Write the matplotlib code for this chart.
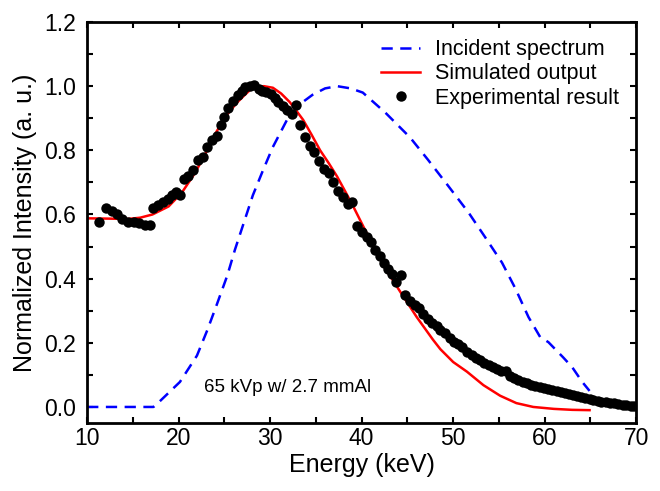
import matplotlib

matplotlib.use("Agg")
import matplotlib.pyplot as plt  # noqa: E402
from matplotlib.ticker import FormatStrFormatter, MultipleLocator  # noqa: E402

plt.rcParams["font.family"] = ["Liberation Sans", "DejaVu Sans"]

# Incident spectrum (blue dashed)
incident_energy = [10.0, 17.25, 17.66, 20.14, 22.0, 23.14, 24.18, 25.32, 26.15,
                   28.11, 29.25, 30.29, 31.84, 33.3, 34.63, 36.0, 37.32, 38.8,
                   40.12, 42.6, 45.29, 47.26, 49.43, 51.7, 53.47, 55.33, 56.78,
                   58.23, 59.5, 60.4, 62.0, 63.0, 64.1, 64.9]
incident_value = [0.0, 0.0, 0.01, 0.078, 0.16, 0.24, 0.32, 0.41, 0.49,
                  0.66, 0.74, 0.81, 0.895, 0.945, 0.973, 0.993, 1.0, 0.993,
                  0.98, 0.917, 0.84, 0.77, 0.69, 0.605, 0.53, 0.45, 0.37,
                  0.28, 0.218, 0.202, 0.155, 0.124, 0.078, 0.05]

# Simulated output (red solid)
sim_energy = [10.0, 12.5, 14.45, 15.8, 17.14, 18.9, 20.35, 21.8, 22.94, 23.97,
              25.11, 26.35, 27.2, 27.8, 28.5, 29.3, 30.3, 31.2, 32.15, 33.0,
              33.6, 34.5, 35.46, 36.4, 37.32, 38.2, 39.08, 40.7, 42.4, 44.26,
              46.02, 47.78, 48.6, 50.0, 51.5, 53.3, 55.13, 56.9, 58.75, 61.0,
              63.0, 64.9]
sim_value = [0.588, 0.587, 0.586, 0.59, 0.60, 0.625, 0.668, 0.73, 0.79, 0.85,
             0.905, 0.948, 0.972, 0.988, 0.997, 1.0, 0.995, 0.977, 0.95, 0.918,
             0.895, 0.85, 0.80, 0.76, 0.718, 0.672, 0.625, 0.533, 0.44, 0.357,
             0.28, 0.21, 0.18, 0.14, 0.11, 0.068, 0.035, 0.012, 0.0, -0.006,
             -0.009, -0.01]

# Experimental result (black dots)
exp_energy = [11.35, 12.07, 12.69, 13.31, 13.83, 14.45, 15.07, 15.69, 16.31, 16.83,
              17.25, 17.76, 18.28, 18.8, 19.32, 19.73, 20.14, 20.56, 21.07, 21.59,
              22.11, 22.63, 23.14, 23.66, 24.18, 24.59, 25.01, 25.42, 25.94, 26.46,
              26.87, 27.28, 27.8, 28.22, 28.73, 29.15, 29.56, 30.08, 30.49, 30.91,
              31.42, 31.84, 32.36, 32.77, 33.29, 33.8, 34.32, 34.84, 35.36, 35.88,
              36.39, 36.91, 37.43, 37.95, 38.46, 38.98, 39.5, 40.02, 40.53, 41.05,
              41.46, 41.98, 42.4, 42.91, 43.33, 43.74, 44.26, 44.78, 45.29, 45.81,
              46.23, 46.74, 47.26, 47.67, 48.19, 48.6, 49.12, 49.64, 50.05, 50.57,
              50.99, 51.5, 52.02, 52.44, 52.95, 53.37, 53.88, 54.3, 54.82, 55.23,
              55.75, 56.16, 56.68, 57.09, 57.61, 58.02, 58.54, 58.96, 59.48, 59.89,
              60.4, 60.82, 61.34, 61.75, 62.2, 62.6, 63.1, 63.5, 64.0, 64.4,
              64.9, 65.3, 65.8, 66.2, 66.7, 67.1, 67.6, 68.0, 68.5, 68.9,
              69.4, 69.8]
exp_value = [0.575, 0.62, 0.61, 0.60, 0.585, 0.578, 0.577, 0.572, 0.568, 0.566,
             0.62, 0.628, 0.64, 0.648, 0.66, 0.67, 0.66, 0.712, 0.72, 0.74,
             0.77, 0.778, 0.81, 0.832, 0.845, 0.878, 0.905, 0.932, 0.955, 0.972,
             0.985, 0.998, 1.0, 1.004, 0.99, 0.986, 0.982, 0.975, 0.962, 0.95,
             0.937, 0.925, 0.912, 0.94, 0.88, 0.84, 0.812, 0.795, 0.768, 0.742,
             0.728, 0.70, 0.672, 0.655, 0.632, 0.64, 0.565, 0.545, 0.53, 0.515,
             0.49, 0.47, 0.448, 0.43, 0.415, 0.39, 0.41, 0.35, 0.33, 0.318,
             0.308, 0.29, 0.273, 0.263, 0.252, 0.24, 0.232, 0.215, 0.202, 0.195,
             0.187, 0.172, 0.163, 0.152, 0.145, 0.138, 0.13, 0.124, 0.118, 0.112,
             0.112, 0.098, 0.09, 0.084, 0.078, 0.074, 0.07, 0.066, 0.062, 0.058,
             0.055, 0.052, 0.049, 0.047, 0.044, 0.041, 0.038, 0.035, 0.032, 0.029,
             0.026, 0.023, 0.02, 0.017, 0.015, 0.013, 0.011, 0.009, 0.007, 0.005,
             0.004, 0.003]

fig = plt.figure(figsize=(6.6, 4.91), dpi=100)
ax = fig.add_axes([0.132, 0.1385, 0.832, 0.8167])

ax.plot(incident_energy, incident_value, color="#0000ff", lw=1.8,
        linestyle=(0, (4.5, 3)), label="Incident spectrum")
ax.plot(sim_energy, sim_value, color="#ff0000", lw=1.8, label="Simulated output")
ax.plot(exp_energy, exp_value, "o", color="black", ms=7.5, mew=0,
        label="Experimental result")

ax.text(22.8, 0.062, "65 kVp w/ 2.7 mmAl", fontsize=13.5, va="center")

ax.set_xlim(10, 70)
ax.set_ylim(-0.05, 1.2)
ax.xaxis.set_major_locator(MultipleLocator(10))
ax.xaxis.set_minor_locator(MultipleLocator(5))
ax.yaxis.set_major_locator(MultipleLocator(0.2))
ax.yaxis.set_minor_locator(MultipleLocator(0.1))
ax.yaxis.set_major_formatter(FormatStrFormatter("%.1f"))
ax.tick_params(which="both", direction="in", top=True, right=True,
               length=4, width=1.5, labelsize=16.5)
ax.tick_params(axis="x", which="major", pad=3)
ax.tick_params(axis="y", which="major", pad=8)
for spine in ax.spines.values():
    spine.set_linewidth(2)

ax.set_xlabel("Energy (keV)", fontsize=18, labelpad=2)
ax.set_ylabel("Normalized Intensity (a. u.)", fontsize=18, labelpad=5)

ax.legend(loc="upper right", frameon=False, fontsize=15.5, handlelength=1.8,
          handletextpad=0.7, labelspacing=0.15, borderaxespad=0.4)

fig.savefig("out.png", dpi=100)
plt.close(fig)
